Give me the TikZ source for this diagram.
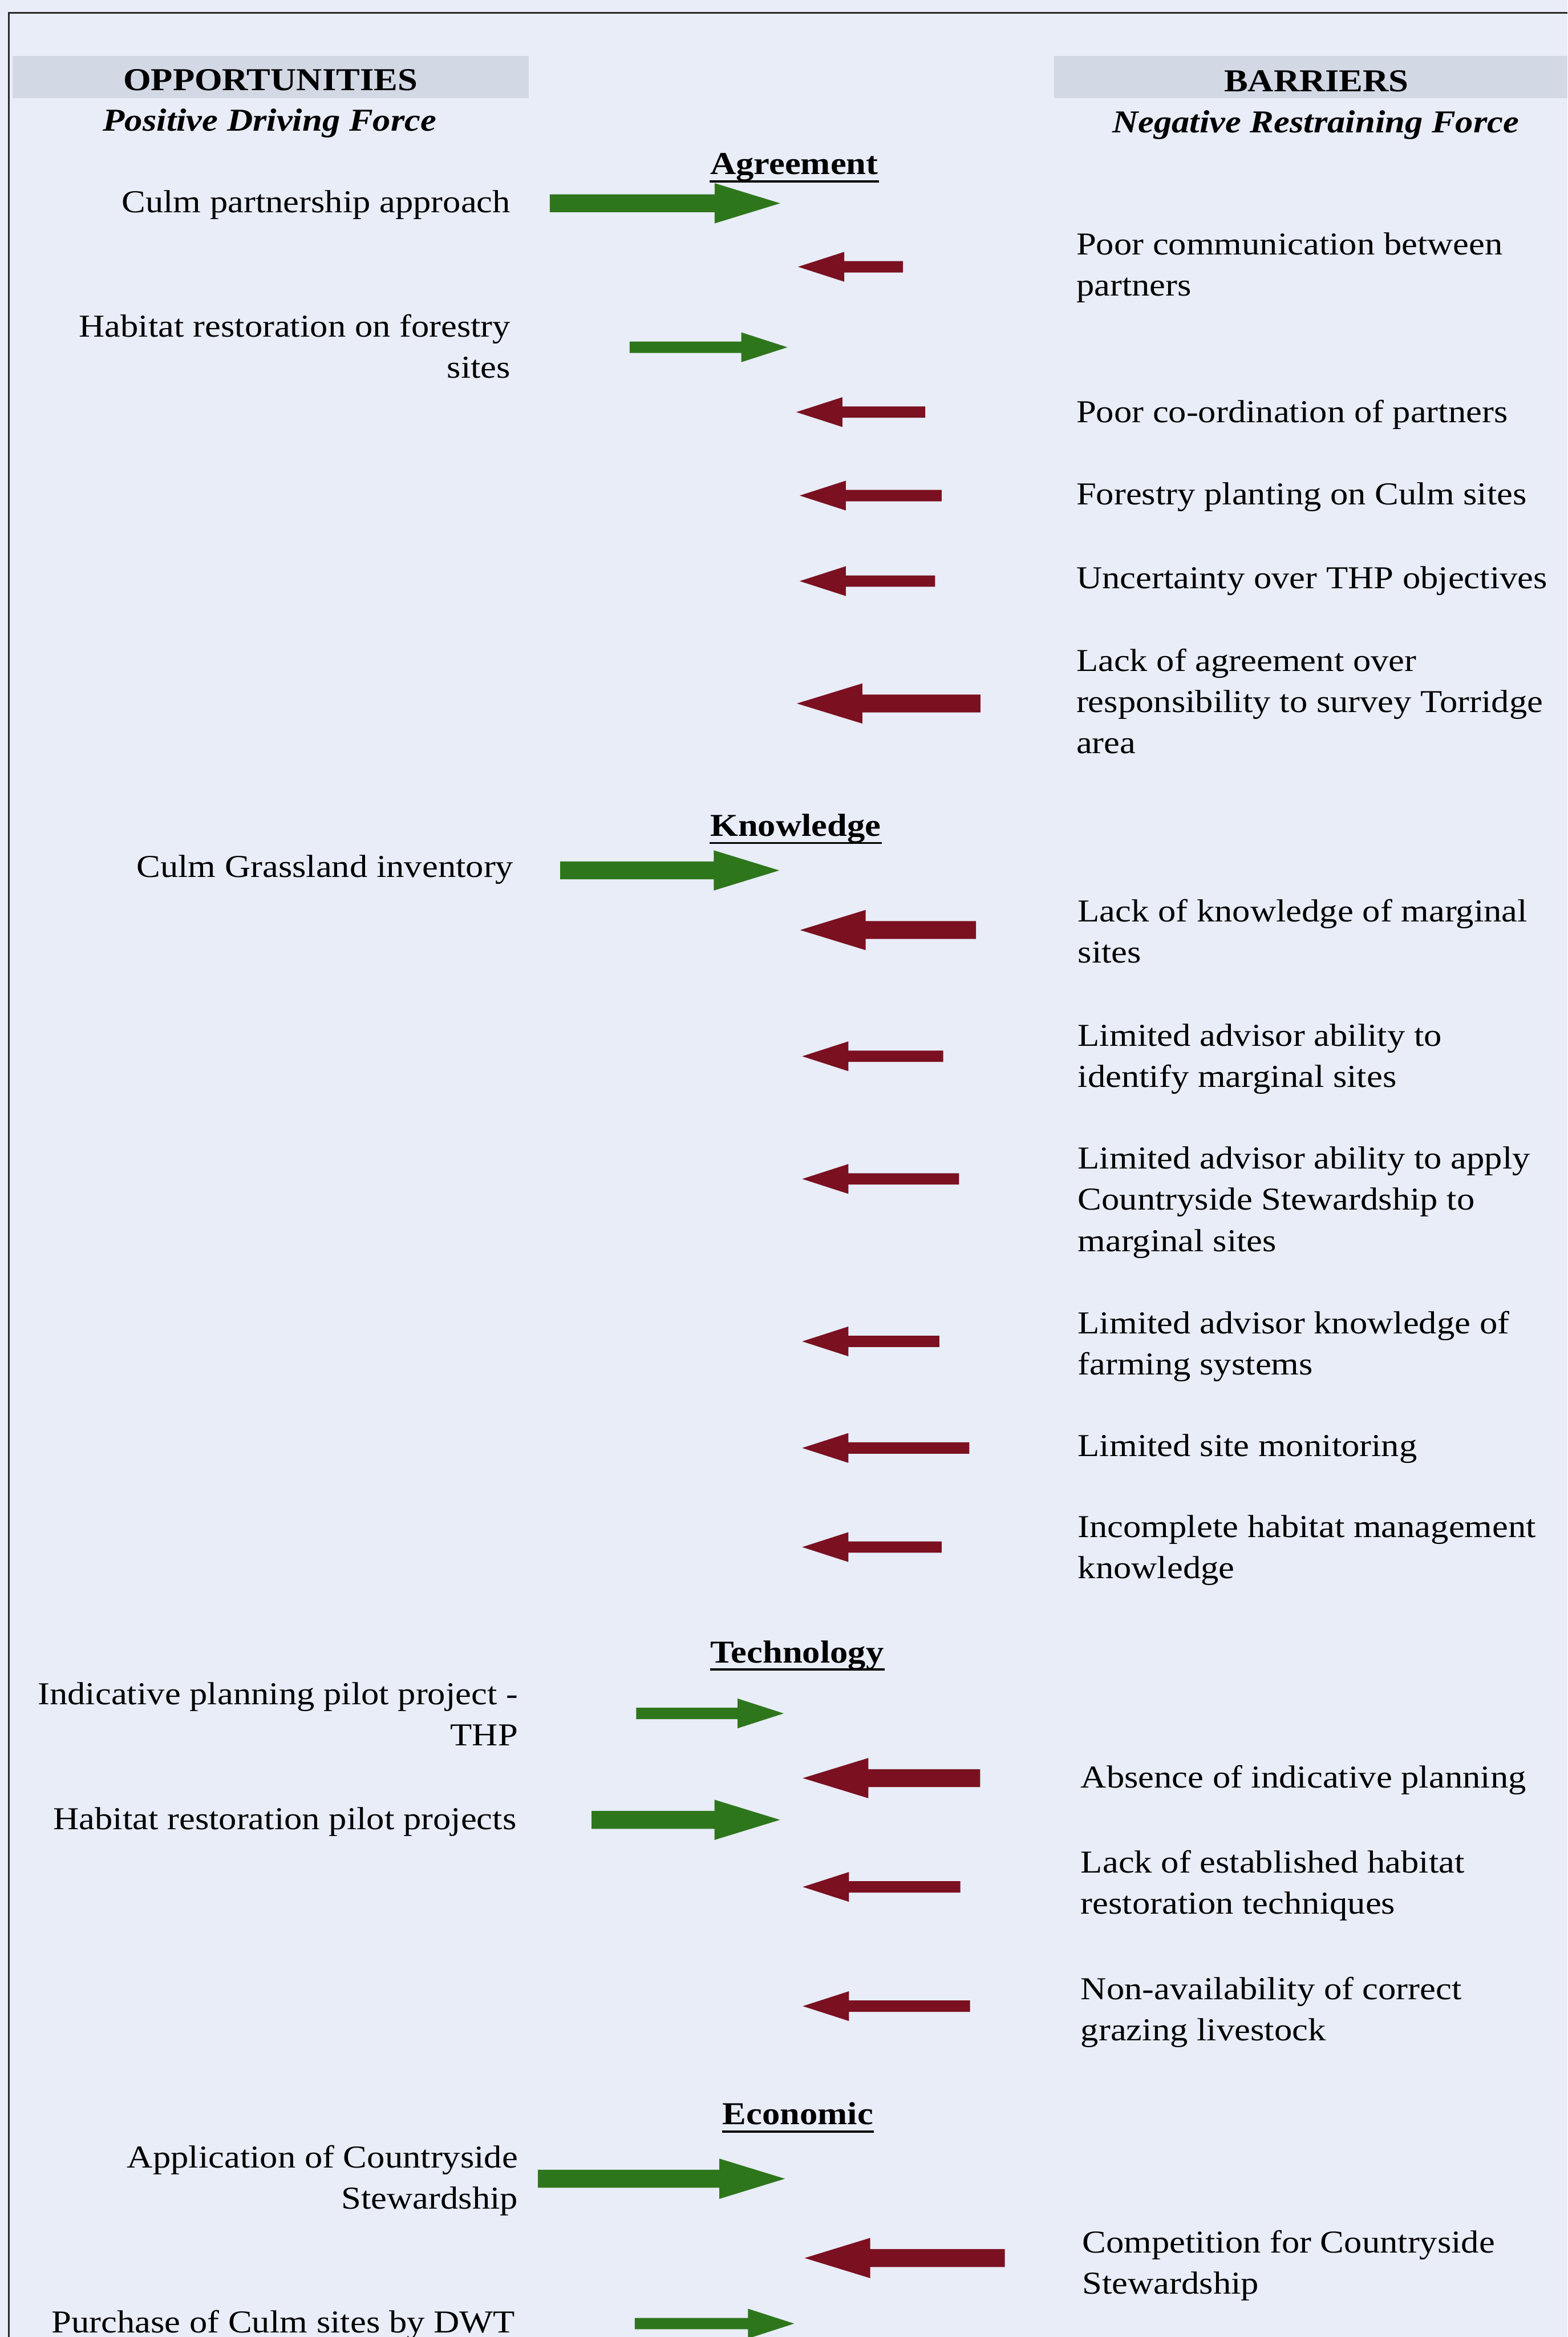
\documentclass[tikz,border=0pt]{standalone}
\usepackage{fontspec}
\setmainfont{Liberation Serif}[FakeStretch=1.12]
\definecolor{pagebg}{RGB}{232,237,247}
\definecolor{bandgray}{RGB}{211,216,229}
\definecolor{gforce}{RGB}{46,118,28}
\definecolor{rforce}{RGB}{122,16,32}
\definecolor{rulecol}{RGB}{40,40,40}
\newcommand{\Lt}[1]{\begin{tabular}[t]{@{}l@{}}#1\end{tabular}}
\newcommand{\Rt}[1]{\begin{tabular}[t]{@{}r@{}}#1\end{tabular}}
% right-pointing arrow: tail x, tip x, y, half shaft, half head, head length
\newcommand{\arrowRt}[6]{\fill[gforce] (#1,{#3-#4}) -- ({#2-#6},{#3-#4}) -- ({#2-#6},{#3-#5}) -- (#2,#3) -- ({#2-#6},{#3+#5}) -- ({#2-#6},{#3+#4}) -- (#1,{#3+#4}) -- cycle;}
% left-pointing arrow: tip x, tail x, y, half shaft, half head, head length
\newcommand{\arrowLt}[6]{\fill[rforce] (#2,{#3-#4}) -- ({#1+#6},{#3-#4}) -- ({#1+#6},{#3-#5}) -- (#1,#3) -- ({#1+#6},{#3+#5}) -- ({#1+#6},{#3+#4}) -- (#2,{#3+#4}) -- cycle;}
\newcommand{\gbig}[3]{\arrowRt{#1}{#2}{#3}{6}{13.5}{44}}
\newcommand{\gsmall}[3]{\arrowRt{#1}{#2}{#3}{3.8}{10}{31}}
\newcommand{\rbig}[3]{\arrowLt{#1}{#2}{#3}{6}{13.5}{44}}
\newcommand{\rsmall}[3]{\arrowLt{#1}{#2}{#3}{3.8}{10}{31}}
\begin{document}
\begin{tikzpicture}[x=0.5pt,y=-0.5pt,
  txt/.style={inner sep=0pt,font=\fontsize{10.7}{13.8}\selectfont},
  lefttxt/.style={txt,anchor=base east},
  righttxt/.style={txt,anchor=base west},
  head/.style={txt,anchor=base,font=\fontsize{10.7}{13.8}\selectfont\bfseries},
  subhead/.style={txt,anchor=base,font=\fontsize{10.7}{13.8}\selectfont\bfseries\itshape},
  section/.style={txt,anchor=base,font=\fontsize{10.7}{13.8}\selectfont\bfseries},
  uline/.style={line width=0.75pt,black}]
\useasboundingbox (0,0) rectangle (1052,1568);
\fill[pagebg] (0,0) rectangle (1052,1568);
% frame
\draw[rulecol,line width=0.5pt] (6,1568) -- (6,8.7) -- (1052,8.7);
% header bands
\fill[bandgray] (8.5,37.7) rectangle (355,65.7);
\fill[bandgray] (707.6,37.7) rectangle (1052,65.7);
\node[head] (hopp) at (181.5,60.7) {OPPORTUNITIES};
\node[subhead] (hpos) at (181,88) {Positive Driving Force};
\node[head] (hbar) at (883.5,61.5) {BARRIERS};
\node[subhead] (hneg) at (883,89) {Negative Restraining Force};
% section headings
\node[section] (sagr) at (533,117) {Agreement};
\node[section] (skno) at (534,561) {Knowledge};
\node[section] (stec) at (535,1115.6) {Technology};
\node[section] (seco) at (535.5,1425.5) {Economic};
\foreach \s in {sagr,skno,stec,seco}
  \draw[uline] ([yshift=-2.3pt]\s.base west) -- ([yshift=-2.3pt]\s.base east);
% opportunities
\node[lefttxt] (o1) at (343,142.5) {Culm partnership approach};
\node[lefttxt] (o2) at (343,226) {\Rt{Habitat restoration on forestry\\sites}};
\node[lefttxt] (o3) at (345,588.5) {Culm Grassland inventory};
\node[lefttxt] (o4) at (348,1143.5) {\Rt{Indicative planning pilot project -\\THP}};
\node[lefttxt] (o5) at (347,1227.5) {Habitat restoration pilot projects};
\node[lefttxt] (o6) at (348,1454.5) {\Rt{Application of Countryside\\Stewardship}};
\node[lefttxt] (o7) at (346,1565) {Purchase of Culm sites by DWT};
% barriers
\node[righttxt] (b1) at (722,171) {\Lt{Poor communication between\\partners}};
\node[righttxt] (b2) at (722,283.5) {Poor co-ordination of partners};
\node[righttxt] (b3) at (722,338.5) {Forestry planting on Culm sites};
\node[righttxt] (b4) at (722,394.8) {Uncertainty over THP objectives};
\node[righttxt] (b5) at (722,450.4) {\Lt{Lack of agreement over\\responsibility to survey Torridge\\area}};
\node[righttxt] (b6) at (723,618.5) {\Lt{Lack of knowledge of marginal\\sites}};
\node[righttxt] (b7) at (723,702) {\Lt{Limited advisor ability to\\identify marginal sites}};
\node[righttxt] (b8) at (723,784.3) {\Lt{Limited advisor ability to apply\\Countryside Stewardship to\\marginal sites}};
\node[righttxt] (b9) at (723,894.8) {\Lt{Limited advisor knowledge of\\farming systems}};
\node[righttxt] (b10) at (723,977) {Limited site monitoring};
\node[righttxt] (b11) at (723,1031.3) {\Lt{Incomplete habitat management\\knowledge}};
\node[righttxt] (b12) at (725,1199.5) {Absence of indicative planning};
\node[righttxt] (b13) at (725,1256.5) {\Lt{Lack of established habitat\\restoration techniques}};
\node[righttxt] (b14) at (725,1341.5) {\Lt{Non-availability of correct\\grazing livestock}};
\node[righttxt] (b15) at (726,1511.5) {\Lt{Competition for Countryside\\Stewardship}};
% driving forces (green)
\gbig{369}{523.6}{136.4}
\gsmall{422.6}{528.5}{233}
\gbig{376}{523}{584}
\gsmall{427}{526}{1149.6}
\gbig{397}{523.5}{1221}
\gbig{361}{526.8}{1461.8}
\gsmall{426}{533}{1559}
% restraining forces (red)
\rsmall{535.6}{606}{179}
\rsmall{534.4}{621}{276.5}
\rsmall{536.7}{632}{332.5}
\rsmall{536.7}{627.6}{389.9}
\rbig{534.8}{658}{472}
\rbig{537}{655}{624}
\rsmall{538.4}{633}{708.7}
\rsmall{538.4}{643.6}{791}
\rsmall{538.4}{630.4}{900}
\rsmall{538.4}{650.5}{971.5}
\rsmall{538.4}{632}{1038}
\rbig{538.8}{657.8}{1193}
\rsmall{538.8}{644.5}{1266}
\rsmall{538.8}{651}{1346}
\rbig{540}{674.4}{1515}
\end{tikzpicture}
\end{document}
